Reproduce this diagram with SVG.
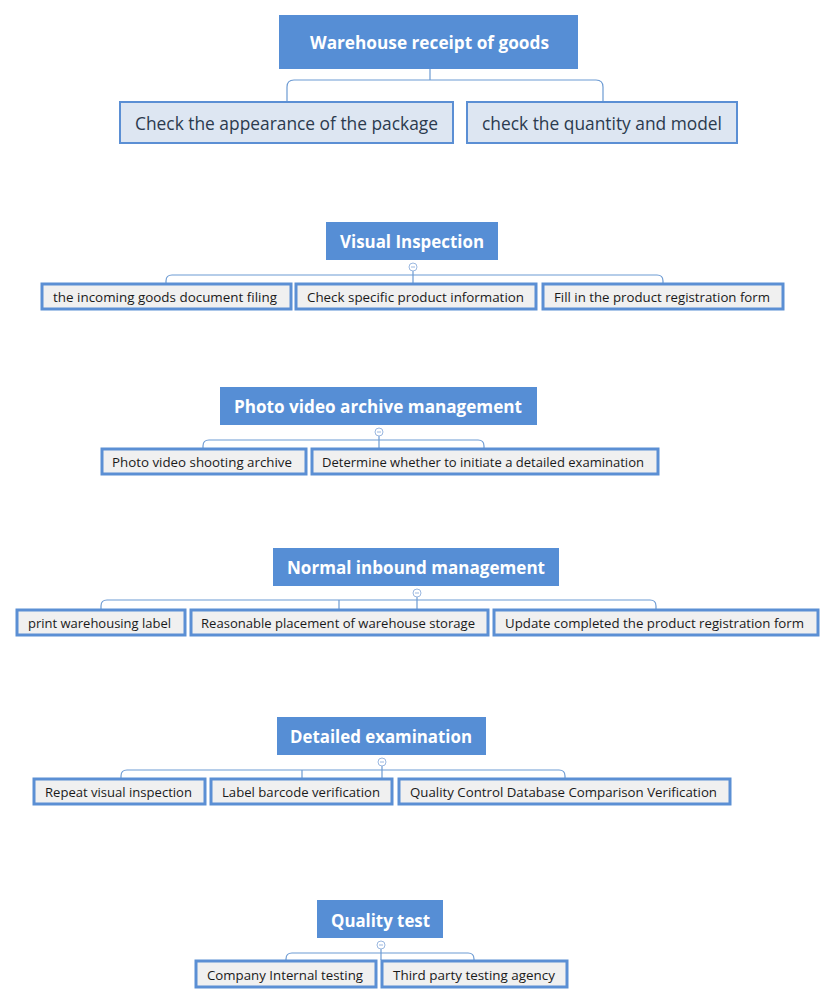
<svg xmlns="http://www.w3.org/2000/svg" width="835" height="1005" viewBox="0 0 835 1005">
<style>
.hd{fill:#568ed5}
.ht{fill:#ffffff;font-family:"Open Sans","Noto Sans",sans-serif;font-weight:bold;font-size:17.5px;text-anchor:middle}
.c1{fill:#dde6f2;stroke:#5b8fd4;stroke-width:2}
.t1{fill:#2b3a4e;font-family:"Open Sans","Noto Sans",sans-serif;font-size:18.5px;text-anchor:middle}
.c2{fill:#f0f0f0;stroke:#5b8fd4;stroke-width:3}
.t2{fill:#1a1a1a;font-family:"Open Sans","Noto Sans",sans-serif;font-size:13.5px;text-anchor:middle}
.ln{fill:none;stroke:#6d9bd3;stroke-width:1.2}
.cc{fill:#ffffff;stroke:#9bb8e0;stroke-width:1}
.cm{stroke:#9bb8e0;stroke-width:1}
</style>
<g id="connectors">
<path class="ln" d="M430,69 V80 M287,102 V87 Q287,80 294,80 H596 Q603,80 603,87 V102"/>
<path class="ln" d="M413,271 V283 M166,283 V281 Q166,275 172,275 H657 Q663,275 663,281 V283"/>
<path class="ln" d="M379,436 V448 M203,448 V446 Q203,440 209,440 H478 Q484,440 484,446 V448"/>
<path class="ln" d="M417,597 V609 M339,609 V600 M101,609 V606 Q101,600 107,600 H650 Q656,600 656,606 V609"/>
<path class="ln" d="M382,766 V778 M302,778 V770 M121,778 V776 Q121,770 127,770 H559 Q565,770 565,776 V778"/>
<path class="ln" d="M381,949 V960 M286,960 V959 Q286,953 292,953 H468 Q474,953 474,959 V960"/>
<g>
<circle class="cc" cx="413" cy="267" r="4"/><line class="cm" x1="411" y1="267" x2="415" y2="267"/>
<circle class="cc" cx="379" cy="432" r="4"/><line class="cm" x1="377" y1="432" x2="381" y2="432"/>
<circle class="cc" cx="417" cy="593" r="4"/><line class="cm" x1="415" y1="593" x2="419" y2="593"/>
<circle class="cc" cx="382" cy="762" r="4"/><line class="cm" x1="380" y1="762" x2="384" y2="762"/>
<circle class="cc" cx="381" cy="945" r="4"/><line class="cm" x1="379" y1="945" x2="383" y2="945"/>
</g>
</g>
<g id="n-main"><rect class="hd" x="279" y="15" width="299" height="54"/><text class="ht" x="429.5" y="49" textLength="239" lengthAdjust="spacingAndGlyphs">Warehouse receipt of goods</text></g>
<g id="n-appearance"><rect class="c1" x="120" y="102" width="333" height="41"/><text class="t1" x="286.5" y="130" textLength="303" lengthAdjust="spacingAndGlyphs">Check the appearance of the package</text></g>
<g id="n-quantity"><rect class="c1" x="467" y="102" width="270" height="41"/><text class="t1" x="602" y="130" textLength="240" lengthAdjust="spacingAndGlyphs">check the quantity and model</text></g>

<g id="n-visual"><rect class="hd" x="326" y="222" width="172" height="38"/><text class="ht" x="412" y="248" textLength="144" lengthAdjust="spacingAndGlyphs">Visual Inspection</text></g>
<g id="n-v1"><rect class="c2" x="42" y="284" width="249" height="25"/><text class="t2" x="165" y="302" textLength="224" lengthAdjust="spacingAndGlyphs">the incoming goods document filing</text></g>
<g id="n-v2"><rect class="c2" x="296" y="284" width="240" height="25"/><text class="t2" x="415.5" y="302" textLength="217" lengthAdjust="spacingAndGlyphs">Check specific product information</text></g>
<g id="n-v3"><rect class="c2" x="543" y="284" width="240" height="25"/><text class="t2" x="662" y="302" textLength="216" lengthAdjust="spacingAndGlyphs">Fill in the product registration form</text></g>

<g id="n-photo"><rect class="hd" x="220" y="387" width="317" height="38"/><text class="ht" x="378" y="413" textLength="288" lengthAdjust="spacingAndGlyphs">Photo video archive management</text></g>
<g id="n-p1"><rect class="c2" x="102" y="449" width="204" height="25"/><text class="t2" x="202" y="467" textLength="180" lengthAdjust="spacingAndGlyphs">Photo video shooting archive</text></g>
<g id="n-p2"><rect class="c2" x="312" y="449" width="346" height="25"/><text class="t2" x="483" y="467" textLength="322" lengthAdjust="spacingAndGlyphs">Determine whether to initiate a detailed examination</text></g>

<g id="n-normal"><rect class="hd" x="273" y="548" width="286" height="38"/><text class="ht" x="416" y="574" textLength="258" lengthAdjust="spacingAndGlyphs">Normal inbound management</text></g>
<g id="n-n1"><rect class="c2" x="17" y="610" width="168" height="25"/><text class="t2" x="99.5" y="628" textLength="143" lengthAdjust="spacingAndGlyphs">print warehousing label</text></g>
<g id="n-n2"><rect class="c2" x="191" y="610" width="297" height="25"/><text class="t2" x="338" y="628" textLength="274" lengthAdjust="spacingAndGlyphs">Reasonable placement of warehouse storage</text></g>
<g id="n-n3"><rect class="c2" x="494" y="610" width="324" height="25"/><text class="t2" x="654.5" y="628" textLength="299" lengthAdjust="spacingAndGlyphs">Update completed the product registration form</text></g>

<g id="n-detailed"><rect class="hd" x="277" y="717" width="209" height="38"/><text class="ht" x="381" y="743" textLength="182" lengthAdjust="spacingAndGlyphs">Detailed examination</text></g>
<g id="n-d1"><rect class="c2" x="34" y="779" width="171" height="25"/><text class="t2" x="118.5" y="797" textLength="147" lengthAdjust="spacingAndGlyphs">Repeat visual inspection</text></g>
<g id="n-d2"><rect class="c2" x="211" y="779" width="181" height="25"/><text class="t2" x="301" y="797" textLength="158" lengthAdjust="spacingAndGlyphs">Label barcode verification</text></g>
<g id="n-d3"><rect class="c2" x="399" y="779" width="331" height="25"/><text class="t2" x="563.5" y="797" textLength="307" lengthAdjust="spacingAndGlyphs">Quality Control Database Comparison Verification</text></g>

<g id="n-quality"><rect class="hd" x="317" y="900" width="126" height="38"/><text class="ht" x="380.5" y="927" textLength="99" lengthAdjust="spacingAndGlyphs">Quality test</text></g>
<g id="n-q1"><rect class="c2" x="196" y="961" width="180" height="26"/><text class="t2" x="285" y="980" textLength="156" lengthAdjust="spacingAndGlyphs">Company Internal testing</text></g>
<g id="n-q2"><rect class="c2" x="382" y="961" width="185" height="26"/><text class="t2" x="474" y="980" textLength="162" lengthAdjust="spacingAndGlyphs">Third party testing agency</text></g>
</svg>
